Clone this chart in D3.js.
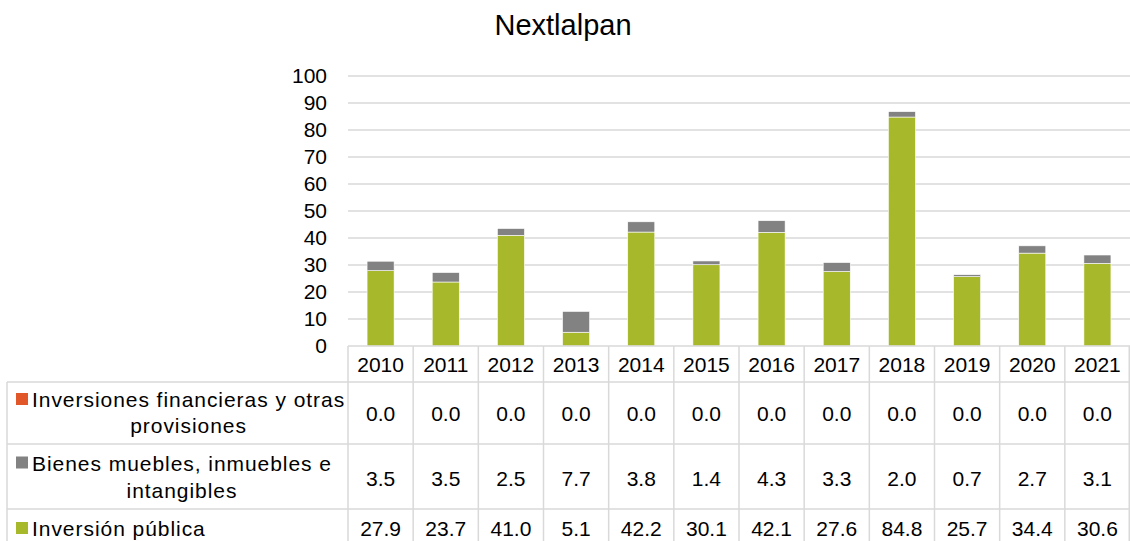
<!DOCTYPE html>
<html>
<head>
<meta charset="utf-8">
<script src="https://cdn.jsdelivr.net/npm/d3@7"></script>
<style>
  body { margin: 0; background: #fff; }
  svg text { font-family: "Liberation Sans", Arial, sans-serif; fill: #000; }
</style>
</head>
<body>
<div id="chart"></div>
<script>
'use strict';

var years = ['2010', '2011', '2012', '2013', '2014', '2015', '2016', '2017', '2018', '2019', '2020', '2021']
var inversionPublica = [27.9, 23.7, 41.0, 5.1, 42.2, 30.1, 42.1, 27.6, 84.8, 25.7, 34.4, 30.6]
var bienesMuebles = [3.5, 3.5, 2.5, 7.7, 3.8, 1.4, 4.3, 3.3, 2.0, 0.7, 2.7, 3.1]
var inversionesFin = [0.0, 0.0, 0.0, 0.0, 0.0, 0.0, 0.0, 0.0, 0.0, 0.0, 0.0, 0.0]
var yTicks = [0, 10, 20, 30, 40, 50, 60, 70, 80, 90, 100]

// series in stack order (bottom first)
var series = [
    { key: 'pub', name: ['Inversión pública'], values: inversionPublica, color: '#a7b92a' },
    { key: 'bie', name: ['Bienes muebles, inmuebles e', 'intangibles'], values: bienesMuebles, color: '#828282' },
    { key: 'fin', name: ['Inversiones financieras y otras', 'provisiones'], values: inversionesFin, color: '#e2572a' }
]

var width = 1130
var height = 541
var plot = { left: 348, right: 1130, top: 76, bottom: 346 }
var gridColor = '#d9d9d9'
var fontSize = 21

var svg = d3.select('#chart').append('svg')
    .attr('width', width).attr('height', height)

var rows = years.map(function(y, i) {
    var r = { year: y }
    series.forEach(function(s) { r[s.key] = s.values[i] })
    return r
})

var stack = d3.stack().keys(series.map(function(s) { return s.key }))
var stacked = stack(rows)

var x = d3.scaleBand().domain(years).range([plot.left, plot.right]).padding(0)
var y = d3.scaleLinear().domain([0, 100]).range([plot.bottom, plot.top])
var barW = x.bandwidth() * 0.415

// title
svg.append('text')
    .attr('x', 563).attr('y', 35)
    .attr('text-anchor', 'middle')
    .style('font-size', '29px')
    .text('Nextlalpan')

// gridlines
svg.append('g')
    .selectAll('line')
    .data(yTicks.filter(function(d) { return d > 0 }))
    .enter().append('line')
    .attr('x1', plot.left).attr('x2', plot.right)
    .attr('y1', function(d) { return y(d) }).attr('y2', function(d) { return y(d) })
    .style('stroke', gridColor).style('stroke-width', 1.5)

// y axis labels
var yAxis = d3.axisLeft(y).tickValues(yTicks).tickSize(0).tickPadding(0)
var gy = svg.append('g')
    .attr('transform', 'translate(327,0)')
    .call(yAxis)
gy.select('.domain').remove()
gy.selectAll('text')
    .style('font-size', fontSize + 'px')
    .style('font-family', '"Liberation Sans", Arial, sans-serif')
    .attr('fill', '#000')

// bars
svg.append('g')
    .selectAll('g')
    .data(stacked)
    .enter().append('g')
    .style('fill', function(d, i) { return series[i].color })
    .selectAll('rect')
    .data(function(d) { return d })
    .enter().append('rect')
    .attr('x', function(d) { return x(d.data.year) + x.bandwidth() / 2 - barW / 2 })
    .attr('y', function(d) { return y(d[1]) })
    .attr('width', barW)
    .attr('height', function(d) { return y(d[0]) - y(d[1]) })
    .style('stroke', '#fff')
    .style('stroke-width', function(d) { return d[1] - d[0] > 0 ? 0.6 : 0 })

// data table
var tbl = svg.append('g')
var headerTop = plot.bottom
var rowEdges = [382, 444, 509, 575]   // table rows: fin, bie, pub
var tableLeft = 7

function hline(x1, x2, yy) {
    tbl.append('line').attr('x1', x1).attr('x2', x2).attr('y1', yy).attr('y2', yy)
        .style('stroke', gridColor).style('stroke-width', 1.5)
}
function vline(xx, y1, y2) {
    tbl.append('line').attr('x1', xx).attr('x2', xx).attr('y1', y1).attr('y2', y2)
        .style('stroke', gridColor).style('stroke-width', 1.5)
}

hline(plot.left, plot.right, headerTop)
rowEdges.forEach(function(e) { hline(tableLeft, plot.right, e) })
years.forEach(function(yr) { vline(x(yr), headerTop, rowEdges[rowEdges.length - 1]) })
vline(plot.right - 0.75, headerTop, rowEdges[rowEdges.length - 1])
vline(tableLeft, rowEdges[0], rowEdges[rowEdges.length - 1])

// header years
tbl.selectAll('.yr')
    .data(years)
    .enter().append('text')
    .attr('class', 'yr')
    .attr('x', function(d) { return x(d) + x.bandwidth() / 2 })
    .attr('y', 371.5)
    .attr('text-anchor', 'middle')
    .style('font-size', fontSize + 'px')
    .text(function(d) { return d })

var tableSeries = series.slice().reverse()
var valueBase = [420.5, 485.5, 536]
var legendBase = [[407, 433], [470.5, 497.5], [536]]

tableSeries.forEach(function(s, r) {
    tbl.selectAll('.v' + s.key)
        .data(s.values)
        .enter().append('text')
        .attr('x', function(d, i) { return x(years[i]) + x.bandwidth() / 2 })
        .attr('y', valueBase[r])
        .attr('text-anchor', 'middle')
        .style('font-size', fontSize + 'px')
        .text(function(d) { return d3.format('.1f')(d) })

    var b = legendBase[r]
    tbl.append('rect')
        .attr('x', 16).attr('y', b[0] - 14)
        .attr('width', 12).attr('height', 12)
        .style('fill', s.color)
    var first = tbl.append('text')
        .attr('x', 32).attr('y', b[0])
        .style('font-size', fontSize + 'px')
        .style('letter-spacing', '0.95px')
        .text(s.name[0])
    if (s.name.length > 1) {
        var w = first.node().getComputedTextLength()
        tbl.append('text')
            .attr('x', 32 + w / 2).attr('y', b[1])
            .attr('text-anchor', 'middle')
            .style('font-size', fontSize + 'px')
            .style('letter-spacing', '0.95px')
            .text(s.name[1])
    }
})
</script>
</body>
</html>
